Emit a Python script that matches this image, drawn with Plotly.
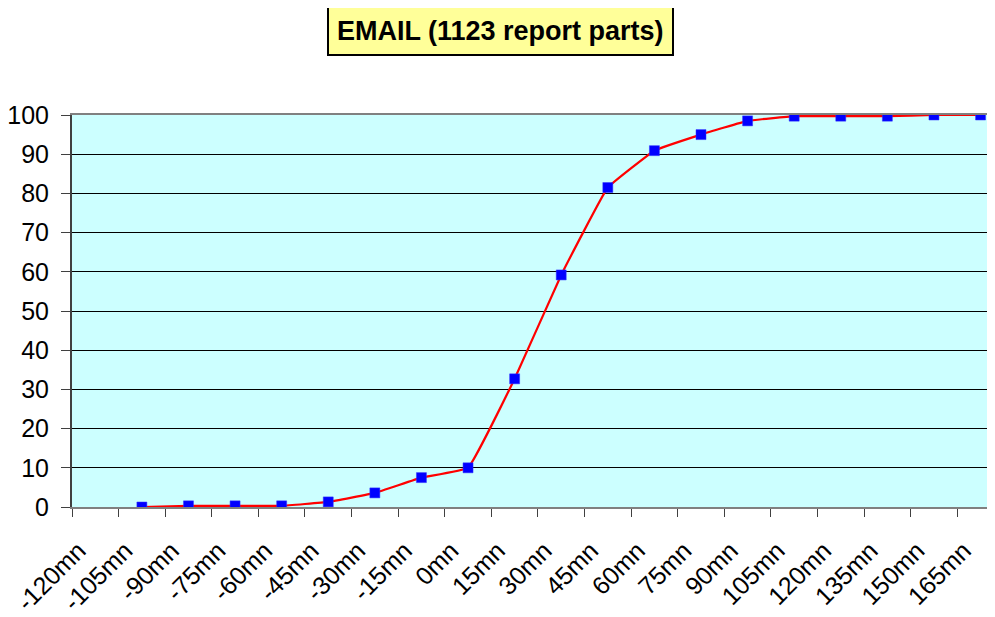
import plotly.graph_objects as go

categories = ["-120mn", "-105mn", "-90mn", "-75mn", "-60mn", "-45mn", "-30mn", "-15mn",
              "0mn", "15mn", "30mn", "45mn", "60mn", "75mn", "90mn", "105mn",
              "120mn", "135mn", "150mn", "165mn"]
percent = [None, 0.0, 0.3, 0.3, 0.3, 1.3, 3.6, 7.5, 10.0, 32.7, 59.2, 81.5,
           90.9, 95.0, 98.5, 99.7, 99.7, 99.7, 100.0, 100.0]
y_ticks = [0, 10, 20, 30, 40, 50, 60, 70, 80, 90, 100]
title_text = "EMAIL (1123 report parts)"

pos = list(range(len(categories)))
label_shift = 0.36

fig = go.Figure()
fig.add_trace(go.Scatter(
    x=pos, y=percent, mode="lines+markers",
    line=dict(color="#FF0000", width=2.2, shape="spline", smoothing=0.25),
    marker=dict(symbol="square", size=10, color="#0000FF",
                line=dict(color="#3333FF", width=0.5)),
    connectgaps=False, showlegend=False, hoverinfo="skip",
))

fig.update_layout(
    width=987, height=609,
    margin=dict(l=64, r=0, t=107, b=110, autoexpand=False),
    paper_bgcolor="#FFFFFF", plot_bgcolor="#CCFFFF",
    font=dict(family="Liberation Sans, Arial, sans-serif", color="#000000"),
    xaxis=dict(
        range=[-0.5, 19.31],
        tickmode="array",
        tickvals=[p - label_shift for p in pos],
        ticktext=categories,
        tickangle=-45,
        ticks="",
        tickfont=dict(size=25),
        ticklabelstandoff=17,
        automargin=False,
        showgrid=False, zeroline=False,
        showline=True, mirror=True, linecolor="#808080", linewidth=2,
        minor=dict(tickmode="array", tickvals=[p - 0.5 for p in pos] + [19.5],
                   ticks="outside", ticklen=8, tickcolor="#404040", tickwidth=1,
                   showgrid=False),
    ),
    yaxis=dict(
        range=[0, 100],
        tickmode="array", tickvals=y_ticks,
        ticks="outside", ticklen=9, tickcolor="#404040", tickwidth=1,
        tickfont=dict(size=25),
        ticklabelstandoff=7,
        automargin=False,
        showgrid=True, gridcolor="#000000", gridwidth=1,
        zeroline=False,
        showline=True, linecolor="#404040", linewidth=2,
    ),
    annotations=[dict(
        text="<b>" + title_text + "</b>",
        xref="paper", yref="paper", x=0.464, y=1.214,
        xanchor="center", yanchor="middle", showarrow=False,
        font=dict(size=27, color="#000000", family="Liberation Sans, Arial, sans-serif"),
        bgcolor="#FFFF99", bordercolor="#000000", borderwidth=2, borderpad=8,
    )],
)

fig.write_html("out.html")
